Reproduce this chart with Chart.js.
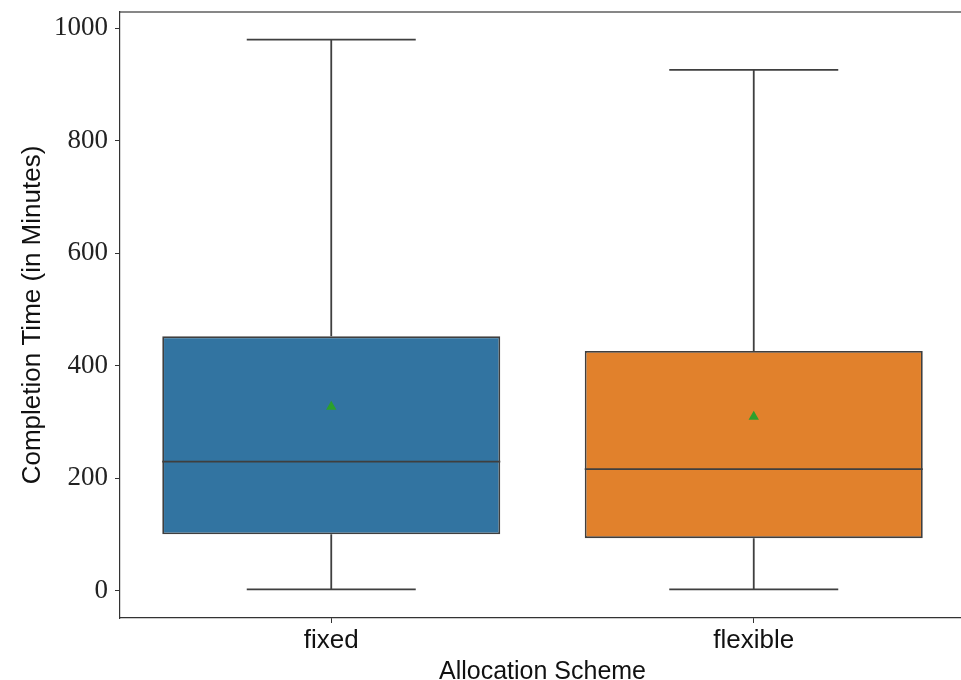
<!DOCTYPE html>
<html>
<head>
<meta charset="utf-8">
<script src="https://cdn.jsdelivr.net/npm/chart.js@4"></script>
<style>
    html, body { margin: 0; padding: 0; background: #fff; overflow: hidden; }
    #wrap { width: 967px; height: 680px; }
</style>
</head>
<body>
<div id="wrap"><canvas id="boxChart" width="967" height="680"></canvas></div>
<script>
// Box plot data
const categories = ['fixed', 'flexible'];
const whiskerLow = [2, 2];
const q1 = [100, 93];
const median = [229, 216];
const q3 = [452, 426];
const whiskerHigh = [980, 926];
const means = [327, 309];
const yTicks = [0, 200, 400, 600, 800, 1000];

const boxColors = ['#3274a1', '#e1812c'];
const edgeColor = '#3f3f3f';
const lineW = 1.8;

// whiskers + caps under the boxes, median on top
const boxPlotLines = {
    id: 'boxPlotLines',
    beforeDatasetsDraw(chart) {
        const { ctx, scales: { x, y } } = chart;
        const meta = chart.getDatasetMeta(0);
        ctx.save();
        ctx.strokeStyle = edgeColor;
        ctx.lineWidth = lineW;
        categories.forEach((c, i) => {
            const cx = x.getPixelForValue(i);
            const capHalf = meta.data[i].width / 4;
            ctx.beginPath();
            ctx.moveTo(cx, y.getPixelForValue(whiskerLow[i]));
            ctx.lineTo(cx, y.getPixelForValue(q1[i]));
            ctx.moveTo(cx, y.getPixelForValue(q3[i]));
            ctx.lineTo(cx, y.getPixelForValue(whiskerHigh[i]));
            ctx.moveTo(cx - capHalf, y.getPixelForValue(whiskerLow[i]));
            ctx.lineTo(cx + capHalf, y.getPixelForValue(whiskerLow[i]));
            ctx.moveTo(cx - capHalf, y.getPixelForValue(whiskerHigh[i]));
            ctx.lineTo(cx + capHalf, y.getPixelForValue(whiskerHigh[i]));
            ctx.stroke();
        });
        ctx.restore();
    },
    afterDatasetDraw(chart, args) {
        if (args.index !== 0) return;
        const { ctx, scales: { x, y } } = chart;
        const meta = chart.getDatasetMeta(0);
        ctx.save();
        ctx.strokeStyle = edgeColor;
        ctx.lineWidth = lineW;
        categories.forEach((c, i) => {
            const cx = x.getPixelForValue(i);
            const half = meta.data[i].width / 2;
            const my = y.getPixelForValue(median[i]);
            ctx.beginPath();
            ctx.moveTo(cx - half, my);
            ctx.lineTo(cx + half, my);
            ctx.stroke();
        });
        ctx.restore();
    },
    afterDraw(chart) {
        // top spine
        const { ctx, chartArea } = chart;
        ctx.save();
        ctx.strokeStyle = '#111';
        ctx.lineWidth = 1.2;
        ctx.beginPath();
        ctx.moveTo(chartArea.left, chartArea.top);
        ctx.lineTo(chartArea.right, chartArea.top);
        ctx.stroke();
        ctx.restore();
    }
};

const ctx = document.getElementById('boxChart').getContext('2d');
new Chart(ctx, {
    type: 'bar',
    data: {
        labels: categories,
        datasets: [{
            type: 'bar',
            data: categories.map((c, i) => [q1[i], q3[i]]),
            backgroundColor: boxColors,
            borderColor: edgeColor,
            borderWidth: lineW,
            borderSkipped: false,
            barPercentage: 0.8,
            categoryPercentage: 1.0,
            order: 2
        }, {
            type: 'line',
            data: means,
            showLine: false,
            pointStyle: 'triangle',
            pointRadius: 6,
            pointBackgroundColor: '#2ca02c',
            pointBorderColor: '#2ca02c',
            pointBorderWidth: 0,
            order: 1
        }]
    },
    options: {
        responsive: false,
        animation: false,
        events: [],
        layout: {
            autoPadding: false,
            padding: { top: 12, right: 2, left: 0, bottom: 0 }
        },
        plugins: {
            legend: { display: false },
            tooltip: { enabled: false }
        },
        scales: {
            x: {
                offset: true,
                grid: {
                    display: true,
                    drawOnChartArea: false,
                    offset: false,
                    tickLength: 5,
                    color: '#333'
                },
                border: { display: true, color: '#333', width: 1.2 },
                ticks: {
                    padding: 2,
                    color: '#111',
                    font: { family: 'Liberation Sans', size: 26 }
                },
                title: {
                    display: true,
                    text: 'Allocation Scheme',
                    color: '#111',
                    font: { family: 'Liberation Sans', size: 25 },
                    padding: { top: 0, bottom: -7 }
                },
                afterFit: scale => {
                    scale.height = 62;
                    scale.paddingLeft = 0;
                    scale.paddingRight = 0;
                }
            },
            y: {
                min: -49,
                max: 1029,
                afterBuildTicks: scale => {
                    scale.ticks = yTicks.map(v => ({ value: v }));
                },
                grid: {
                    display: true,
                    drawOnChartArea: false,
                    tickLength: 5,
                    color: '#333'
                },
                border: { display: true, color: '#333', width: 1.2 },
                ticks: {
                    padding: 7,
                    color: '#222',
                    font: { family: 'Liberation Serif', size: 27 },
                    callback: v => String(v)
                },
                title: {
                    display: true,
                    text: 'Completion Time (in Minutes)',
                    color: '#111',
                    font: { family: 'Liberation Sans', size: 26 },
                    padding: { top: 17, bottom: 0 }
                },
                afterFit: scale => {
                    scale.width = 120;
                    scale.paddingTop = 0;
                    scale.paddingBottom = 0;
                }
            }
        }
    },
    plugins: [boxPlotLines]
});
</script>
</body>
</html>
